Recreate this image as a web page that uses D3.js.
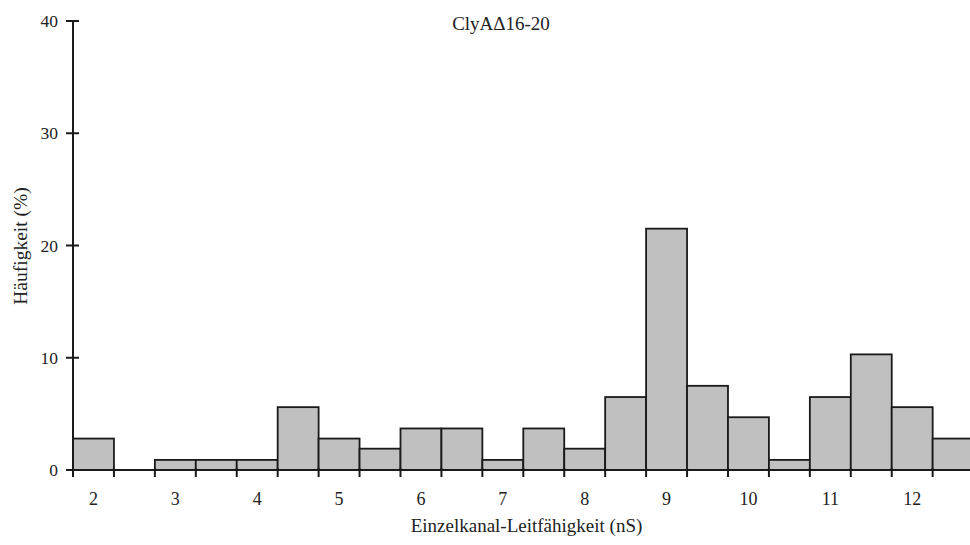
<!DOCTYPE html>
<html>
<head>
<meta charset="utf-8">
<script src="https://cdn.jsdelivr.net/npm/d3@7"></script>
<style>
  html, body { margin: 0; padding: 0; background: #fff; }
  svg { display: block; }
  text { font-family: "Liberation Serif", "Times New Roman", serif; fill: #222; }
</style>
</head>
<body>
<svg id="chart" width="970" height="545"></svg>
<script>
// Data
const bins = ["2","2.5","3","3.5","4","4.5","5","5.5","6","6.5","7","7.5","8","8.5","9","9.5","10","10.5","11","11.5","12","12.5"];
const values = [2.8, 0, 0.9, 0.9, 0.9, 5.6, 2.8, 1.9, 3.7, 3.7, 0.9, 3.7, 1.9, 6.5, 21.5, 7.5, 4.7, 0.9, 6.5, 10.3, 5.6, 2.8];
const xTickLabels = ["2","3","4","5","6","7","8","9","10","11","12"];
const yTicks = [0, 10, 20, 30, 40];
const title = "ClyAΔ16-20";
const xTitle = "Einzelkanal-Leitfähigkeit (nS)";
const yTitle = "Häufigkeit (%)";

const svg = d3.select("#chart");
const mLeft = 73, mRight = 973.6, mTop = 21, mBottom = 470;

const x = d3.scaleBand().domain(bins).range([mLeft, mRight]).paddingInner(0).paddingOuter(0);
const y = d3.scaleLinear().domain([0, 40]).range([mBottom, mTop]);

// Bars
svg.append("g").selectAll("rect").data(values).join("rect")
  .attr("x", (d, i) => x(bins[i]))
  .attr("y", d => y(d))
  .attr("width", x.bandwidth())
  .attr("height", d => y(0) - y(d))
  .attr("fill", d => d > 0 ? "#c0c0c0" : "none")
  .attr("stroke", d => d > 0 ? "#1a1a1a" : "none")
  .attr("stroke-width", 1.8);

// Y axis
const yAxis = svg.append("g").attr("transform", `translate(${mLeft},0)`)
  .call(d3.axisLeft(y).tickValues(yTicks).tickSize(0).tickPadding(15));
yAxis.select(".domain").remove();
yAxis.selectAll("text").attr("font-size", 17.5).attr("font-family", "Liberation Serif").attr("fill", "#222");
svg.append("line").attr("x1", mLeft).attr("x2", mLeft).attr("y1", y(40)).attr("y2", y(0))
  .attr("stroke", "#1a1a1a").attr("stroke-width", 2);
svg.append("g").selectAll("line").data(yTicks).join("line")
  .attr("x1", mLeft - 7).attr("x2", mLeft + 6)
  .attr("y1", d => y(d)).attr("y2", d => y(d))
  .attr("stroke", "#1a1a1a").attr("stroke-width", 2);

// X axis line
svg.append("line").attr("x1", mLeft - 7).attr("x2", mRight).attr("y1", y(0)).attr("y2", y(0))
  .attr("stroke", "#1a1a1a").attr("stroke-width", 2);
// X ticks at bin boundaries
const edges = bins.map(b => x(b)).concat([x(bins[bins.length - 1]) + x.bandwidth()]);
svg.append("g").selectAll("line").data(edges).join("line")
  .attr("x1", d => d).attr("x2", d => d)
  .attr("y1", y(0) - 2).attr("y2", y(0) + 7)
  .attr("stroke", "#1a1a1a").attr("stroke-width", 2);
// X tick labels centered on labelled bins
svg.append("g").selectAll("text").data(xTickLabels).join("text")
  .attr("x", d => x(d) + x.bandwidth() / 2)
  .attr("y", 505)
  .attr("text-anchor", "middle")
  .attr("font-size", 18)
  .text(d => d);

// Titles
svg.append("text").attr("x", 501).attr("y", 30).attr("text-anchor", "middle")
  .attr("font-size", 19).text(title);
svg.append("text").attr("x", 526.5).attr("y", 532).attr("text-anchor", "middle")
  .attr("font-size", 19).text(xTitle);
svg.append("text").attr("transform", `translate(27,246) rotate(-90)`).attr("text-anchor", "middle")
  .attr("font-size", 19.5).text(yTitle);
</script>
</body>
</html>
